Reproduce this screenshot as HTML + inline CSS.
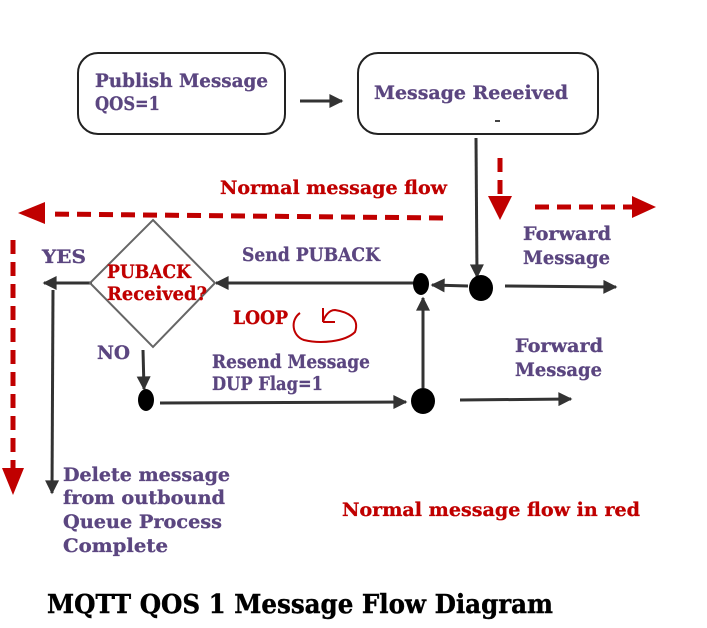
<!DOCTYPE html>
<html><head><meta charset="utf-8"><style>
html,body{margin:0;padding:0;background:#fff;width:707px;height:628px;overflow:hidden}
svg{display:block}
text{font-family:"DejaVu Serif","Liberation Serif",serif;font-weight:bold}
.p{fill:#5b4680;font-size:19px;stroke:#5b4680;stroke-width:0.3}
.r{fill:#c00000;font-size:19px;stroke:#c00000;stroke-width:0.3}
</style></head><body>
<svg width="707" height="628" viewBox="0 0 707 628" xmlns="http://www.w3.org/2000/svg">
<defs>
<marker id="a" viewBox="0 0 10 10" refX="9" refY="5" markerWidth="15" markerHeight="14" markerUnits="userSpaceOnUse" orient="auto"><path d="M0,0L10,5L0,10z" fill="#333"/></marker>
</defs>
<g fill="none" stroke="#222" stroke-width="2">
<rect x="78" y="53" width="207" height="81" rx="20"/>
<rect x="358" y="53" width="240" height="81" rx="20"/>
</g>
<text class="p" x="95" y="87" textLength="173" lengthAdjust="spacingAndGlyphs">Publish Message</text>
<text class="p" x="95" y="110" textLength="65" lengthAdjust="spacingAndGlyphs">QOS=1</text>
<text class="p" x="374" y="99" textLength="194" lengthAdjust="spacingAndGlyphs">Message Reeeived</text>
<rect x="495" y="120" width="5" height="2" fill="#444"/>
<g stroke="#333" stroke-width="3" fill="none" marker-end="url(#a)">
<line x1="300" y1="101" x2="342" y2="101"/>
<line x1="476" y1="138" x2="477" y2="277"/>
<line x1="468" y1="286" x2="432" y2="285"/>
<line x1="415" y1="283" x2="216" y2="283"/>
<line x1="505" y1="286" x2="616" y2="287"/>
<line x1="92" y1="283" x2="44" y2="283"/>
<line x1="53" y1="290" x2="52" y2="493"/>
<line x1="143" y1="350" x2="144" y2="389"/>
<line x1="160" y1="403" x2="406" y2="402"/>
<line x1="423" y1="388" x2="423" y2="298"/>
<line x1="460" y1="400" x2="571" y2="399"/>
</g>
<polygon points="153,220 215,283 153,347 90,283" fill="none" stroke="#666" stroke-width="2"/>
<ellipse cx="481" cy="288" rx="12" ry="13"/>
<ellipse cx="421" cy="284" rx="8" ry="11"/>
<ellipse cx="146" cy="400" rx="8" ry="11"/>
<ellipse cx="423" cy="401" rx="12" ry="13"/>
<g stroke="#c00000" stroke-width="5" fill="none" stroke-dasharray="14,8">
<line x1="500" y1="158" x2="500" y2="198"/>
<line x1="535" y1="207" x2="632" y2="207"/>
<line x1="443" y1="218" x2="48" y2="214"/>
<line x1="13" y1="240" x2="13" y2="470"/>
</g>
<g fill="#c00000">
<polygon points="488,196 512,196 500,220"/>
<polygon points="632,196 656,207 632,218"/>
<polygon points="45,202 18,213 45,224"/>
<polygon points="2,468 24,468 13,495"/>
</g>
<path d="M300,313 C290,320 292,336 304,340 C320,344 345,342 355,332 C360,318 348,312 335,310 C328,310 324,318 323,322 L323,308 M323,322 L335,322" fill="none" stroke="#c00000" stroke-width="2"/>
<text class="r" x="220" y="194" textLength="227" lengthAdjust="spacingAndGlyphs">Normal message flow</text>
<text class="p" x="42" y="263" textLength="44" lengthAdjust="spacingAndGlyphs">YES</text>
<text class="p" x="242" y="261" textLength="138" lengthAdjust="spacingAndGlyphs">Send PUBACK</text>
<text class="r" x="107" y="278" font-size="18" textLength="84" lengthAdjust="spacingAndGlyphs">PUBACK</text>
<text class="r" x="107" y="300" font-size="18" textLength="100" lengthAdjust="spacingAndGlyphs">Received?</text>
<text class="p" x="523" y="240" textLength="88" lengthAdjust="spacingAndGlyphs">Forward</text>
<text class="p" x="523" y="264" textLength="87" lengthAdjust="spacingAndGlyphs">Message</text>
<text class="r" x="233" y="324" font-size="17" textLength="55" lengthAdjust="spacingAndGlyphs">LOOP</text>
<text class="p" x="97" y="359" textLength="33" lengthAdjust="spacingAndGlyphs">NO</text>
<text class="p" x="212" y="368" textLength="158" lengthAdjust="spacingAndGlyphs">Resend Message</text>
<text class="p" x="212" y="390" textLength="111" lengthAdjust="spacingAndGlyphs">DUP Flag=1</text>
<text class="p" x="515" y="352" textLength="88" lengthAdjust="spacingAndGlyphs">Forward</text>
<text class="p" x="515" y="376" textLength="87" lengthAdjust="spacingAndGlyphs">Message</text>
<text class="p" x="63" y="481" textLength="167" lengthAdjust="spacingAndGlyphs">Delete message</text>
<text class="p" x="63" y="504" textLength="162" lengthAdjust="spacingAndGlyphs">from outbound</text>
<text class="p" x="63" y="528" textLength="159" lengthAdjust="spacingAndGlyphs">Queue Process</text>
<text class="p" x="63" y="552" textLength="105" lengthAdjust="spacingAndGlyphs">Complete</text>
<text class="r" x="342" y="516" textLength="298" lengthAdjust="spacingAndGlyphs">Normal message flow in red</text>
<text x="47" y="613" font-size="26" fill="#000" stroke="#000" stroke-width="0.4" textLength="506" lengthAdjust="spacingAndGlyphs">MQTT QOS 1 Message Flow Diagram</text>
</svg>
</body></html>
